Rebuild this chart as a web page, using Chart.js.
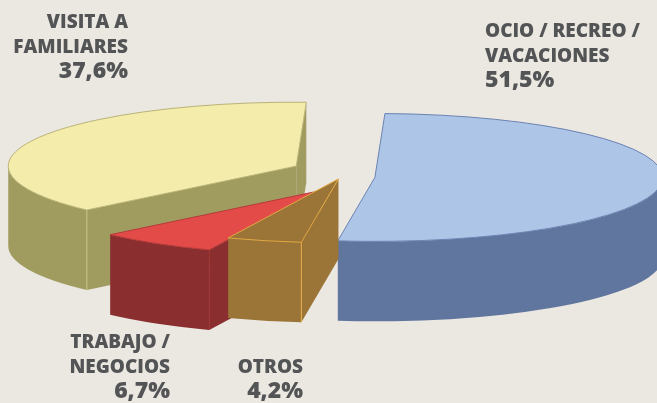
<!DOCTYPE html>
<html>
<head>
<meta charset="utf-8">
<title>Motivo del viaje</title>
<script src="https://cdn.jsdelivr.net/npm/chart.js@4.4.1/dist/chart.umd.min.js"></script>
<style>
  html, body { margin: 0; padding: 0; background: #ebe7e1; }
  #wrap { position: relative; width: 657px; height: 403px; }
</style>
</head>
<body>
<div id="wrap"><canvas id="pieChart"></canvas></div>
<script>
// motivo del viaje, % de visitantes
const categories = [
  ['OCIO / RECREO /', 'VACACIONES'],
  ['OTROS'],
  ['TRABAJO /', 'NEGOCIOS'],
  ['VISITA A', 'FAMILIARES']
];
const shares = [51.5, 4.2, 6.7, 37.6];

const topColors  = ['#adc6e7', '#9a7537', '#e34b49', '#f3ecab'];
const sideColors = ['#61769f', '#9a7537', '#8a2e2f', '#a09b5f'];
const edgeColors = ['#6b82b2', '#e2aa42', '#b53a3a', '#b9b377'];
const rimEdges   = ['#7d90b8', '#e8b04a', '#9c3535', '#c9c48c'];
const explode    = [35, 6, 36, 48];
// label anchor: x, first baseline, align
const labelPos = [
  [485, 37, 'left'],
  [303, 373, 'right'],
  [170, 348, 'right'],
  [128, 28, 'right']
];

const TILT = 0.222;   // squash of the pie top
const LIFT = 0.5;     // squash applied to the explode shift
const DEPTH = 80;

// extruded pie: sides first, then the top face drawn by the arc element itself
const pie3d = {
  id: 'pie3d',
  beforeDatasetsDraw(chart) {
    const ctx = chart.ctx;
    const arcs = chart.getDatasetMeta(0).data;
    const midOf = a => (a.startAngle + a.endAngle) / 2;
    const order = arcs.map((a, i) => i)
      .sort((i, j) => Math.sin(midOf(arcs[i])) - Math.sin(midOf(arcs[j])));

    order.forEach(i => {
      const arc = arcs[i];
      const x = arc.x, y = arc.y, a1 = arc.startAngle, a2 = arc.endAngle, R = arc.outerRadius;
      const mid = (a1 + a2) / 2;
      const ex = Math.cos(mid) * explode[i];
      const ey = Math.sin(mid) * explode[i] * LIFT;
      const ax = x + ex, ay = y + ey;
      const ry = R * TILT;
      const pt = (a, dz) => [ax + R * Math.cos(a), ay + ry * Math.sin(a) + dz];

      ctx.save();
      ctx.fillStyle = sideColors[i];

      const wall = a => {
        const p = pt(a, 0);
        ctx.beginPath();
        ctx.moveTo(ax, ay);
        ctx.lineTo(p[0], p[1]);
        ctx.lineTo(p[0], p[1] + DEPTH);
        ctx.lineTo(ax, ay + DEPTH);
        ctx.closePath();
        ctx.fill();
      };
      if (Math.cos(a1) < 0) wall(a1);
      if (Math.cos(a2) > 0) wall(a2);

      // outer rim, front half only
      for (let n = -1; n <= 1; n++) {
        const s = Math.max(a1, n * 2 * Math.PI);
        const e = Math.min(a2, n * 2 * Math.PI + Math.PI);
        if (e <= s) continue;
        ctx.beginPath();
        ctx.ellipse(ax, ay, R, ry, 0, s, e);
        ctx.ellipse(ax, ay + DEPTH, R, ry, 0, e, s, true);
        ctx.closePath();
        ctx.fill();
      }

      // vertical corner lines where a wall meets the rim
      ctx.strokeStyle = rimEdges[i];
      ctx.lineWidth = 1;
      [a1, a2].forEach((a, k) => {
        const seen = k === 0 ? Math.cos(a) < 0 : Math.cos(a) > 0;
        if (seen && Math.sin(a) > 0) {
          const p = pt(a, 0);
          ctx.beginPath();
          ctx.moveTo(p[0], p[1]);
          ctx.lineTo(p[0], p[1] + DEPTH);
          ctx.stroke();
        }
      });

      // top face
      ctx.save();
      ctx.translate(ex, ey);
      ctx.translate(0, y);
      ctx.scale(1, TILT);
      ctx.translate(0, -y);
      arc.draw(ctx);
      ctx.restore();

      ctx.beginPath();
      ctx.moveTo(ax, ay);
      ctx.ellipse(ax, ay, R, ry, 0, a1, a2);
      ctx.closePath();
      ctx.strokeStyle = edgeColors[i];
      ctx.lineWidth = 1;
      ctx.stroke();
      ctx.restore();
    });
    return false;
  }
};

const pieLabels = {
  id: 'pieLabels',
  afterDraw(chart) {
    const ctx = chart.ctx;
    ctx.save();
    ctx.fillStyle = '#535456';
    ctx.textBaseline = 'alphabetic';
    categories.forEach((lines, i) => {
      const [lx, ly, align] = labelPos[i];
      ctx.textAlign = align;
      ctx.font = '800 19px "Open Sans"';
      lines.forEach((t, k) => ctx.fillText(t, lx, ly + k * 25));
      ctx.font = '800 23px "Open Sans"';
      ctx.fillText(shares[i].toFixed(1).replace('.', ',') + '%', lx, ly + lines.length * 25);
    });
    ctx.restore();
  }
};

new Chart(document.getElementById('pieChart'), {
  type: 'pie',
  data: {
    labels: categories.map(l => l.join(' ')),
    datasets: [{
      data: shares,
      backgroundColor: topColors,
      borderWidth: 0
    }]
  },
  options: {
    responsive: true,
    maintainAspectRatio: false,
    animation: false,
    events: [],
    rotation: 2,
    radius: 288,
    layout: { padding: { left: 23, bottom: 51 } },
    plugins: {
      legend: { display: false },
      tooltip: { enabled: false }
    }
  },
  plugins: [pie3d, pieLabels]
});
</script>
</body>
</html>
